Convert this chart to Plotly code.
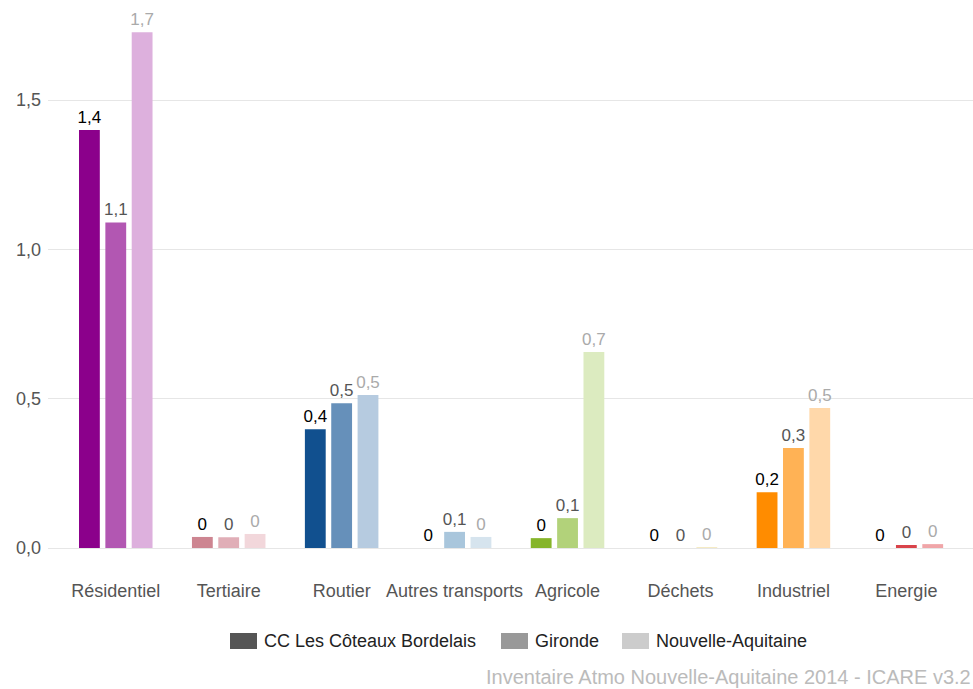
import plotly.graph_objects as go

# Emissions by sector for three territories
categories = ["Résidentiel", "Tertiaire", "Routier", "Autres transports",
              "Agricole", "Déchets", "Industriel", "Energie"]
series_names = ["CC Les Côteaux Bordelais", "Gironde", "Nouvelle-Aquitaine"]

cc_values = [1.40, 0.037, 0.398, 0.0, 0.033, 0.0, 0.187, 0.0]
gironde_values = [1.09, 0.036, 0.485, 0.054, 0.100, 0.0, 0.335, 0.010]
na_values = [1.727, 0.047, 0.512, 0.037, 0.656, 0.002, 0.469, 0.013]

# Sector colours, one shade per territory
cc_colors = ["#8B008B", "#CD8591", "#11508F", "#A9C6DC",
             "#86B52B", "#E8D27A", "#FF8C00", "#D9434A"]
gironde_colors = ["#B257B2", "#E0AEB7", "#6690BA", "#A9C6DC",
                  "#B2D27A", "#EEDC9A", "#FFB255", "#D9434A"]
na_colors = ["#DDB0DD", "#F2D7DB", "#B6CBE0", "#D6E4EE",
             "#DCEBC0", "#F5EBC4", "#FFD8AA", "#F0A5A8"]

label_colors = ["#000000", "#555555", "#AAAAAA"]
legend_colors = ["#555555", "#999999", "#CCCCCC"]

FONT = "Liberation Sans"
W, H = 973, 689
M_L, M_R, M_T, M_B = 48, 0, 20, 141
PLOT_W = W - M_L - M_R
PLOT_H = H - M_T - M_B


def px_x(px):
    """Page pixel column -> paper x (relative to plot area)."""
    return (px - M_L) / PLOT_W


def px_y(py):
    """Page pixel row -> paper y (relative to plot area)."""
    return (H - M_B - py) / PLOT_H


def fmt(v):
    r = round(v, 1)
    if r == 0:
        return "0"
    return f"{r:.1f}".replace(".", ",")


fig = go.Figure()

for name, vals, cols, lc in zip(series_names,
                                [cc_values, gironde_values, na_values],
                                [cc_colors, gironde_colors, na_colors],
                                label_colors):
    fig.add_trace(go.Bar(
        x=categories, y=vals, name=name, showlegend=False,
        marker=dict(color=cols, line=dict(width=0)),
        text=[fmt(v) for v in vals], textposition="outside",
        textfont=dict(family=FONT, size=17, color=lc),
        constraintext="none", cliponaxis=False,
        hovertemplate="%{x}: %{y:.2f}<extra>" + name + "</extra>",
    ))

# Legend row below the axis: grey key block followed by the territory name
shapes = []
annotations = []
key_left = [230, 501, 622]
key_w, key_h, key_cy = 27, 16, 641
for name, col, kx in zip(series_names, legend_colors, key_left):
    shapes.append(dict(
        type="rect", xref="paper", yref="paper",
        x0=px_x(kx), x1=px_x(kx + key_w),
        y0=px_y(key_cy + key_h / 2), y1=px_y(key_cy - key_h / 2),
        fillcolor=col, line=dict(width=0), layer="above",
    ))
    annotations.append(dict(
        text=name, xref="paper", yref="paper",
        x=px_x(kx + key_w + 5), xanchor="left",
        y=px_y(key_cy), yanchor="middle", showarrow=False,
        font=dict(family=FONT, size=18, color="#222222"),
    ))

annotations.append(dict(
    text="Inventaire Atmo Nouvelle-Aquitaine 2014 - ICARE v3.2",
    xref="paper", yref="paper", x=1.0, xanchor="right",
    y=px_y(677), yanchor="middle", showarrow=False,
    font=dict(family=FONT, size=20, color="#BBBBBB"),
))

fig.update_layout(
    width=W, height=H,
    margin=dict(l=M_L, r=M_R, t=M_T, b=M_B),
    paper_bgcolor="white", plot_bgcolor="white",
    barmode="group", bargap=0.30, bargroupgap=0.21,
    separators=", ",
    showlegend=False,
    font=dict(family=FONT, size=18, color="#555555"),
    xaxis=dict(range=[-0.6, 7.59], showgrid=False, zeroline=False,
               showline=False, ticks="", ticklabelstandoff=30,
               tickfont=dict(family=FONT, size=18, color="#555555")),
    yaxis=dict(range=[0, 1.768], tickvals=[0, 0.5, 1.0, 1.5],
               tickformat=".1f", showgrid=True, gridcolor="#E6E6E6",
               gridwidth=1, zeroline=True, zerolinecolor="#E6E6E6",
               zerolinewidth=1, showline=False, ticks="",
               ticklabelstandoff=6,
               tickfont=dict(family=FONT, size=18, color="#555555")),
    shapes=shapes,
    annotations=annotations,
)

fig.write_html("out.html")
